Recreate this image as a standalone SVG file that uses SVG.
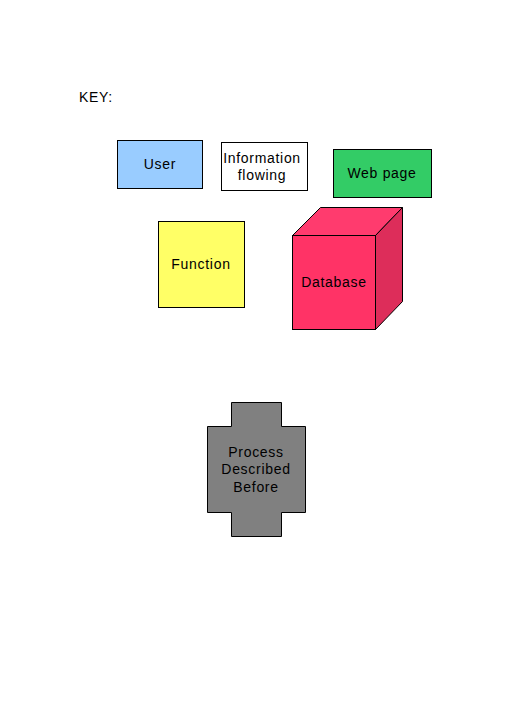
<svg xmlns="http://www.w3.org/2000/svg" width="512" height="724" viewBox="0 0 512 724">
<style>
.s{stroke:#000;stroke-width:1}
text{font-family:"Liberation Sans",Arial,sans-serif;font-size:14px;fill:#000;text-anchor:middle;letter-spacing:0.7px}
</style>
<rect width="512" height="724" fill="#fff"/>
<text x="79" y="102" style="text-anchor:start">KEY:</text>
<g id="user"><rect class="s" x="117.5" y="140.5" width="85" height="48" fill="#99ccff"/><text x="160" y="169">User</text></g>
<g id="info"><rect class="s" x="221.5" y="142.5" width="86" height="48" fill="#fff"/><text x="262" y="163">Information</text><text x="262" y="180">flowing</text></g>
<g id="webpage"><rect class="s" x="333.5" y="149.5" width="98" height="48" fill="#33cc66"/><text x="382" y="178">Web page</text></g>
<g id="function"><rect class="s" x="158.5" y="221.5" width="86" height="86" fill="#ffff66"/><text x="201" y="269">Function</text></g>
<g id="database">
<polygon class="s" points="292.5,235.5 320.5,207.5 402.5,207.5 375.5,235.5" fill="#ff3b6e"/>
<polygon class="s" points="375.5,235.5 402.5,207.5 402.5,301.5 375.5,329.5" fill="#dd2d5a"/>
<rect class="s" x="292.5" y="235.5" width="83" height="94" fill="#ff3366"/>
<text x="334" y="287">Database</text></g>
<g id="process"><polygon class="s" points="231.5,402.5 281.5,402.5 281.5,426.5 305.5,426.5 305.5,512.5 281.5,512.5 281.5,536.5 231.5,536.5 231.5,512.5 207.5,512.5 207.5,426.5 231.5,426.5" fill="#808080"/>
<text x="256" y="457">Process</text><text x="256" y="474">Described</text><text x="256" y="492">Before</text></g>
<g id="connectors"/>
</svg>
